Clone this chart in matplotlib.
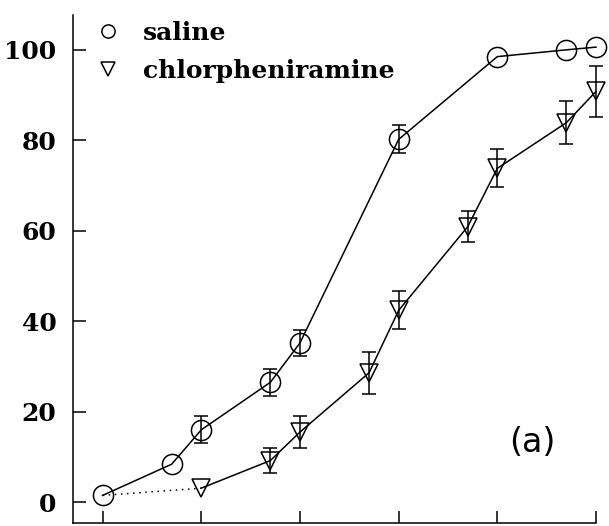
import matplotlib
matplotlib.use("Agg")
import matplotlib.pyplot as plt
from matplotlib.lines import Line2D

# log dose positions and % response
saline_x = [0, 0.7, 1, 1.7, 2, 3, 4, 4.7, 5]
saline_y = [1.5, 8.4, 16.0, 26.5, 35.2, 80.2, 98.5, 100.0, 100.6]
saline_err = [0, 0, 3.0, 3.0, 2.9, 3.1, 0, 0, 0]

chlor_x = [1, 1.7, 2, 2.7, 3, 3.7, 4, 4.7, 5]
chlor_y = [3.1, 9.2, 15.5, 28.6, 42.4, 60.9, 73.8, 83.9, 90.8]
chlor_err = [0, 2.7, 3.5, 4.6, 4.2, 3.4, 4.2, 4.8, 5.6]

y_ticks = [0, 20, 40, 60, 80, 100]
x_ticks = [0, 1, 2, 3, 4, 5]

fig = plt.figure(figsize=(6.09, 5.26), dpi=100)
ax = fig.add_axes([73 / 609, 3 / 526, 523 / 609, 508 / 526])

lw = 1.1
ms = 14.5

ax.plot(saline_x, saline_y, color="black", lw=lw, marker="o", ms=ms,
        mfc="none", mec="black", mew=lw, clip_on=False, zorder=3)
ax.plot(chlor_x, chlor_y, color="black", lw=lw, marker="v", ms=ms - 1,
        mfc="none", mec="black", mew=lw, clip_on=False, zorder=3)
# dotted link from the common baseline to the first chlorpheniramine dose
ax.plot([saline_x[0], chlor_x[0]], [saline_y[0], chlor_y[0]], color="black",
        lw=lw, ls=(0, (1, 3)), zorder=2)

for xs, ys, es in [(saline_x, saline_y, saline_err), (chlor_x, chlor_y, chlor_err)]:
    px = [x for x, e in zip(xs, es) if e > 0]
    py = [y for y, e in zip(ys, es) if e > 0]
    pe = [e for e in es if e > 0]
    ax.errorbar(px, py, yerr=pe, fmt="none", ecolor="black", elinewidth=lw,
                capsize=4.8, capthick=lw, clip_on=False, zorder=2)

ax.set_xlim(-0.30, 5.0)
ax.set_ylim(-4.6, 107.7)
ax.set_xticks(x_ticks)
ax.set_xticklabels([])
ax.set_yticks(y_ticks)
ax.set_yticklabels([str(v) for v in y_ticks], fontfamily="DejaVu Serif",
                   fontweight="bold", fontsize=18)
ax.tick_params(axis="x", direction="in", length=9, width=lw)
ax.tick_params(axis="y", direction="in", length=9.5, width=lw, pad=12)

for side in ["top", "right"]:
    ax.spines[side].set_visible(False)
for side in ["left", "bottom"]:
    ax.spines[side].set_linewidth(lw)

handles = [
    Line2D([], [], ls="none", marker="o", ms=9.5, mfc="none", mec="black", mew=lw),
    Line2D([], [], ls="none", marker="v", ms=9.5, mfc="none", mec="black", mew=lw),
]
ax.legend(handles, ["saline", "chlorpheniramine"], loc="upper left",
          bbox_to_anchor=(95 / 609, 1 - 21 / 526), bbox_transform=fig.transFigure,
          frameon=False, borderpad=0, borderaxespad=0, handlelength=1.0,
          handletextpad=0.9, labelspacing=0.55,
          prop={"family": "DejaVu Serif", "weight": "bold", "size": 18})

ax.text(0.878, 0.159, "(a)", transform=ax.transAxes, ha="center", va="center",
        fontfamily="DejaVu Sans", fontsize=24)

fig.savefig("out.png", dpi=100)
